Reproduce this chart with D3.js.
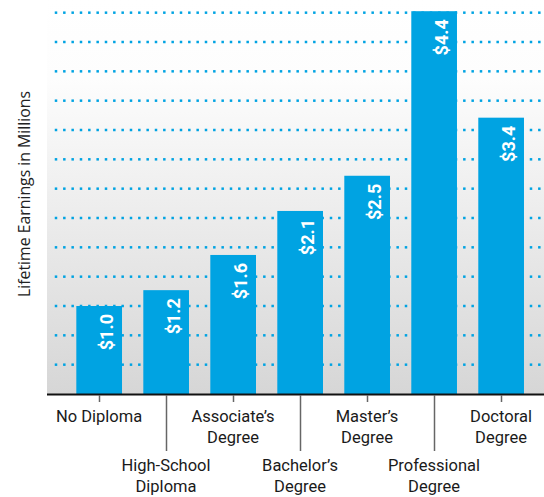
<!DOCTYPE html>
<html>
<head>
<meta charset="utf-8">
<script src="https://cdn.jsdelivr.net/npm/d3@7"></script>
<style>
  body { margin: 0; background: #fff; }
  .label { font-family: Roboto, sans-serif; font-size: 16.5px; fill: #1a1a1a; }
  .ylabel { font-family: "Open Sans", sans-serif; font-size: 15.8px; fill: #222; }
  .value { font-family: Roboto, sans-serif; font-weight: 700; font-size: 18px; fill: #fff; }
</style>
</head>
<body>
<div id="graph"></div>
<script>
// data
var categories = ["No Diploma", "High-School Diploma", "Associate's Degree", "Bachelor's Degree",
                  "Master's Degree", "Professional Degree", "Doctoral Degree"];
var label_lines = [["No Diploma"], ["High-School", "Diploma"], ["Associate\u2019s", "Degree"],
                   ["Bachelor\u2019s", "Degree"], ["Master\u2019s", "Degree"],
                   ["Professional", "Degree"], ["Doctoral", "Degree"]];
var earnings = [1.0, 1.18, 1.58, 2.08, 2.48, 4.35, 3.14];   // bar heights as drawn
var value_labels = ["$1.0", "$1.2", "$1.6", "$2.1", "$2.5", "$4.4", "$3.4"];
var grid_values = [1/3, 2/3, 1, 4/3, 5/3, 2, 7/3, 8/3, 3, 10/3, 11/3, 4, 13/3];

const width = 544, height = 497;
const blue = "#00a3e2";
var svg, xScale, yScale;

function setup() {
    svg = d3.select("#graph")
        .append("svg")
        .attr("width", width)
        .attr("height", height);

    // background fades from white at top to light gray at the axis
    var grad = svg.append("defs").append("linearGradient")
        .attr("id", "bg")
        .attr("x1", 0).attr("y1", 0).attr("x2", 0).attr("y2", 1);
    grad.append("stop").attr("offset", "0%").attr("stop-color", "#ffffff");
    grad.append("stop").attr("offset", "20%").attr("stop-color", "#fdfdfd");
    grad.append("stop").attr("offset", "100%").attr("stop-color", "#d6d6d6");
}

function build_scales() {
    xScale = d3.scaleBand()
        .domain(categories)
        .range([65.6, 534.7])
        .paddingInner(0.318)
        .paddingOuter(0.16);
    // 88px per million, baseline at y=394
    yScale = d3.scaleLinear()
        .domain([0, 4.5])
        .range([394, 394 - 4.5 * 88]);
}

function draw() {
    svg.append("rect")
        .attr("x", 47)
        .attr("y", 0)
        .attr("width", width - 47)
        .attr("height", yScale(0))
        .attr("fill", "url(#bg)");

    // dotted gridlines, one dot every ~8.3px
    var dot_xs = d3.range(55, width, 25 / 3);
    var grid = svg.append("g");
    grid_values.forEach(function(v) {
        grid.append("g")
            .selectAll("rect")
            .data(dot_xs)
            .enter()
            .append("rect")
            .attr("x", function(d) { return d - 0.25; })
            .attr("y", yScale(v) - 1.25)
            .attr("width", 2.5)
            .attr("height", 2.5)
            .attr("fill", blue);
    });

    var bars = svg.append("g");
    bars.selectAll(".bar")
        .data(categories)
        .enter()
        .append("rect")
        .attr("class", "bar")
        .attr("x", function(d) { return xScale(d); })
        .attr("y", function(d, i) { return yScale(earnings[i]); })
        .attr("width", xScale.bandwidth())
        .attr("height", function(d, i) { return yScale(0) - yScale(earnings[i]); })
        .attr("fill", blue);

    // values written upwards inside the bar tops
    bars.selectAll(".value")
        .data(categories)
        .enter()
        .append("text")
        .attr("class", "value")
        .attr("text-anchor", "end")
        .attr("transform", function(d, i) {
            var x = xScale(d) + xScale.bandwidth() / 2 + 14;
            var y = yScale(earnings[i]) + 8;
            return "translate(" + x + "," + y + ") rotate(-90)";
        })
        .text(function(d, i) { return value_labels[i]; });

    // x axis line
    svg.append("line")
        .attr("x1", 47)
        .attr("x2", width)
        .attr("y1", 394.5)
        .attr("y2", 394.5)
        .attr("stroke", "#111")
        .attr("stroke-width", 2);

    // ticks: short for top row labels, long for bottom row
    var ticks = svg.append("g")
        .selectAll("g")
        .data(categories)
        .enter()
        .append("g")
        .attr("transform", function(d) {
            return "translate(" + Math.round(xScale(d) + xScale.bandwidth() / 2) + ",0)";
        });
    ticks.append("line")
        .attr("x1", 0.5).attr("x2", 0.5)
        .attr("y1", 395)
        .attr("y2", function(d, i) { return i % 2 == 0 ? 402 : 451; })
        .attr("stroke", "#666")
        .attr("stroke-width", 1.5);
    ticks.append("text")
        .attr("class", "label")
        .attr("text-anchor", "middle")
        .attr("y", function(d, i) { return i % 2 == 0 ? 422 : 471; })
        .selectAll("tspan")
        .data(function(d, i) { return label_lines[i]; })
        .enter()
        .append("tspan")
        .attr("x", 0)
        .attr("dy", function(d, j) { return j == 0 ? 0 : 21; })
        .text(function(d) { return d; });

    svg.append("text")
        .attr("class", "ylabel")
        .attr("text-anchor", "middle")
        .attr("transform", "translate(30,194) rotate(-90)")
        .text("Lifetime Earnings in Millions");
}

setup();
build_scales();
draw();
</script>
</body>
</html>
